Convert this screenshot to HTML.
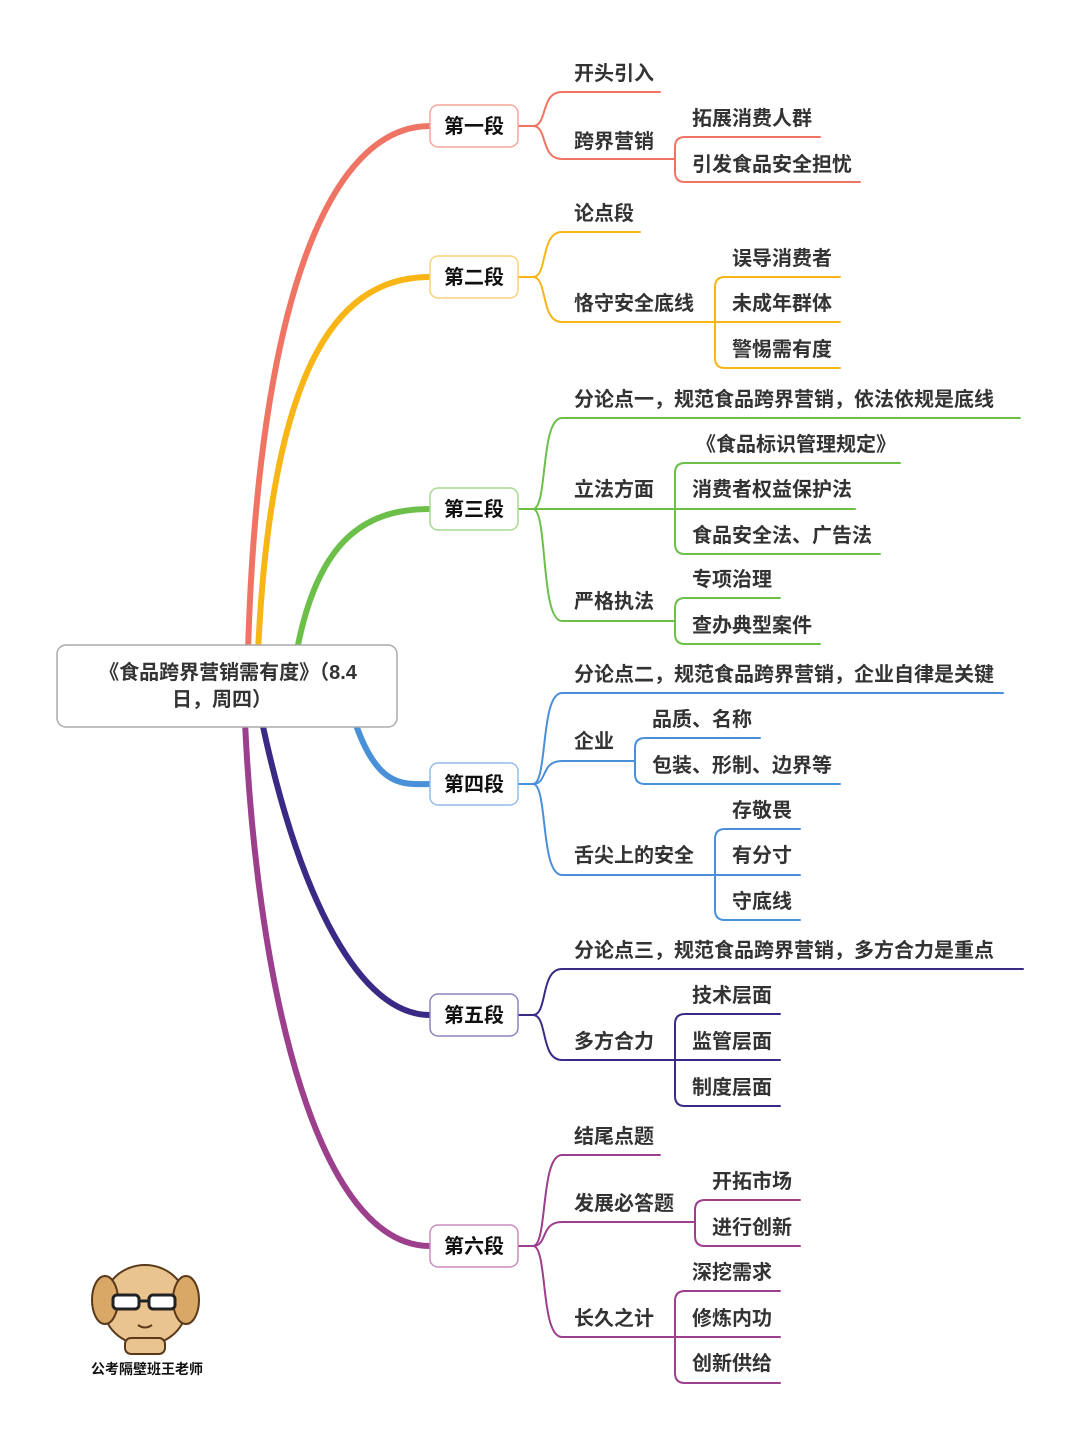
<!DOCTYPE html>
<html><head><meta charset="utf-8"><style>
html,body{margin:0;padding:0;background:#fff;}
svg{display:block}
text{font-family:"Liberation Sans","Noto Sans CJK SC",sans-serif;font-weight:bold;fill:#333;font-size:20px}
</style></head><body>
<svg width="1080" height="1439" viewBox="0 0 1080 1439" xmlns="http://www.w3.org/2000/svg">
<g fill="none" stroke-linecap="round">
<path d="M248,652 C258,300 330,126 430,126" stroke="#f07464" stroke-width="6"/>
<path d="M258,652 C272,350 345,277 430,277" stroke="#f8b616" stroke-width="6"/>
<path d="M297,650 C318,540 365,509 430,509" stroke="#6cc04a" stroke-width="6"/>
<path d="M355,722 C378,790 405,784 430,784" stroke="#4a90d9" stroke-width="6"/>
<path d="M262,722 C300,900 360,1015 430,1015" stroke="#3b2a85" stroke-width="6"/>
<path d="M245,722 C258,1000 320,1246 430,1246" stroke="#9c3f8c" stroke-width="6"/>

<g stroke="#f07464" stroke-width="2">
<path d="M518,126 H533 C548,126 540,92 562,92 H660"/>
<path d="M518,126 H533 C548,126 540,159 562,159 H675"/>
<path d="M675,159 V147 Q675,137 685,137 H820"/>
<path d="M675,159 V172 Q675,182 685,182 H860"/>
</g>
<g stroke="#f8b616" stroke-width="2">
<path d="M518,277 H533 C548,277 540,232 562,232 H640"/>
<path d="M518,277 H533 C548,277 540,322 562,322 H715"/>
<path d="M715,322 V287 Q715,277 725,277 H840"/>
<path d="M715,322 H840"/>
<path d="M715,322 V358 Q715,368 725,368 H840"/>
</g>
<g stroke="#6cc04a" stroke-width="2">
<path d="M518,509 H533 C548,509 540,418 562,418 H1020"/>
<path d="M518,509 H675"/>
<path d="M533,509 C548,509 540,621 562,621 H675"/>
<path d="M675,509 V473 Q675,463 685,463 H900"/>
<path d="M675,509 H855"/>
<path d="M675,509 V544 Q675,554 685,554 H880"/>
<path d="M675,621 V608 Q675,598 685,598 H780"/>
<path d="M675,621 V634 Q675,644 685,644 H820"/>
</g>
<g stroke="#4a90d9" stroke-width="2">
<path d="M518,784 H533 C548,784 540,693 562,693 H1003"/>
<path d="M518,784 H533 C548,784 540,761 562,761 H635"/>
<path d="M533,784 C548,784 540,875 562,875 H715"/>
<path d="M635,761 V748 Q635,738 645,738 H760"/>
<path d="M635,761 V774 Q635,784 645,784 H840"/>
<path d="M715,875 V839 Q715,829 725,829 H800"/>
<path d="M715,875 H800"/>
<path d="M715,875 V910 Q715,920 725,920 H800"/>
</g>
<g stroke="#3b2a85" stroke-width="2">
<path d="M518,1015 H533 C548,1015 540,969 562,969 H1023"/>
<path d="M518,1015 H533 C548,1015 540,1060 562,1060 H675"/>
<path d="M675,1060 V1024 Q675,1014 685,1014 H780"/>
<path d="M675,1060 H780"/>
<path d="M675,1060 V1096 Q675,1106 685,1106 H780"/>
</g>
<g stroke="#9c3f8c" stroke-width="2">
<path d="M518,1246 H533 C548,1246 540,1155 562,1155 H660"/>
<path d="M518,1246 H533 C548,1246 540,1222 562,1222 H695"/>
<path d="M533,1246 C548,1246 540,1337 562,1337 H675"/>
<path d="M695,1222 V1210 Q695,1200 705,1200 H800"/>
<path d="M695,1222 V1236 Q695,1246 705,1246 H800"/>
<path d="M675,1337 V1301 Q675,1291 685,1291 H780"/>
<path d="M675,1337 H780"/>
<path d="M675,1337 V1373 Q675,1383 685,1383 H780"/>
</g>
</g>

<rect x="57" y="645" width="340" height="82" rx="9" fill="#fff" stroke="#aaa" stroke-width="1.5"/>
<text x="228" y="679" text-anchor="middle">《食品跨界营销需有度》（8.4</text>
<text x="222" y="706" text-anchor="middle">日，周四）</text>

<g stroke-width="1.5">
<rect x="430" y="105" width="88" height="42" rx="8" fill="#fff" stroke="#f4a69c"/>
<rect x="430" y="256" width="88" height="42" rx="8" fill="#fff" stroke="#f9d27a"/>
<rect x="430" y="488" width="88" height="42" rx="8" fill="#fff" stroke="#a6d98f"/>
<rect x="430" y="763" width="88" height="42" rx="8" fill="#fff" stroke="#92bce8"/>
<rect x="430" y="994" width="88" height="42" rx="8" fill="#fff" stroke="#8d83bb"/>
<rect x="430" y="1225" width="88" height="42" rx="8" fill="#fff" stroke="#c98cbf"/>
</g>
<g text-anchor="middle">
<text x="474" y="133" style="fill:#111">第一段</text>
<text x="474" y="284" style="fill:#111">第二段</text>
<text x="474" y="516" style="fill:#111">第三段</text>
<text x="474" y="791" style="fill:#111">第四段</text>
<text x="474" y="1022" style="fill:#111">第五段</text>
<text x="474" y="1253" style="fill:#111">第六段</text>
</g>

<text x="574" y="80">开头引入</text>
<text x="574" y="148">跨界营销</text>
<text x="692" y="125">拓展消费人群</text>
<text x="692" y="171">引发食品安全担忧</text>

<text x="574" y="220">论点段</text>
<text x="574" y="310">恪守安全底线</text>
<text x="732" y="265">误导消费者</text>
<text x="732" y="310">未成年群体</text>
<text x="732" y="356">警惕需有度</text>

<text x="574" y="406">分论点一，规范食品跨界营销，依法依规是底线</text>
<text x="574" y="496">立法方面</text>
<text x="696" y="451">《食品标识管理规定》</text>
<text x="692" y="496">消费者权益保护法</text>
<text x="692" y="542">食品安全法、广告法</text>
<text x="574" y="608">严格执法</text>
<text x="692" y="586">专项治理</text>
<text x="692" y="632">查办典型案件</text>

<text x="574" y="681">分论点二，规范食品跨界营销，企业自律是关键</text>
<text x="574" y="748">企业</text>
<text x="652" y="726">品质、名称</text>
<text x="652" y="772">包装、形制、边界等</text>
<text x="574" y="862">舌尖上的安全</text>
<text x="732" y="817">存敬畏</text>
<text x="732" y="862">有分寸</text>
<text x="732" y="908">守底线</text>

<text x="574" y="957">分论点三，规范食品跨界营销，多方合力是重点</text>
<text x="574" y="1048">多方合力</text>
<text x="692" y="1002">技术层面</text>
<text x="692" y="1048">监管层面</text>
<text x="692" y="1094">制度层面</text>

<text x="574" y="1143">结尾点题</text>
<text x="574" y="1210">发展必答题</text>
<text x="712" y="1188">开拓市场</text>
<text x="712" y="1234">进行创新</text>
<text x="574" y="1325">长久之计</text>
<text x="692" y="1279">深挖需求</text>
<text x="692" y="1325">修炼内功</text>
<text x="692" y="1370">创新供给</text>

<g>
<ellipse cx="145" cy="1305" rx="42" ry="40" fill="#e9c48f" stroke="#5a3a1a" stroke-width="2"/>
<ellipse cx="105" cy="1300" rx="13" ry="24" fill="#d9a866" stroke="#5a3a1a" stroke-width="2"/>
<ellipse cx="186" cy="1300" rx="13" ry="24" fill="#d9a866" stroke="#5a3a1a" stroke-width="2"/>
<rect x="113" y="1295" width="26" height="14" rx="4" fill="#fff" stroke="#222" stroke-width="3"/>
<rect x="149" y="1295" width="26" height="14" rx="4" fill="#fff" stroke="#222" stroke-width="3"/>
<path d="M139,1301 H149" stroke="#222" stroke-width="3"/>
<path d="M138,1325 Q145,1330 152,1325" stroke="#5a3a1a" stroke-width="2" fill="none"/>
<rect x="125" y="1338" width="40" height="16" rx="6" fill="#e9c48f" stroke="#5a3a1a" stroke-width="2"/>
</g>
<text x="147" y="1374" text-anchor="middle" style="font-size:14px;fill:#111">公考隔壁班王老师</text>
</svg>
</body></html>
